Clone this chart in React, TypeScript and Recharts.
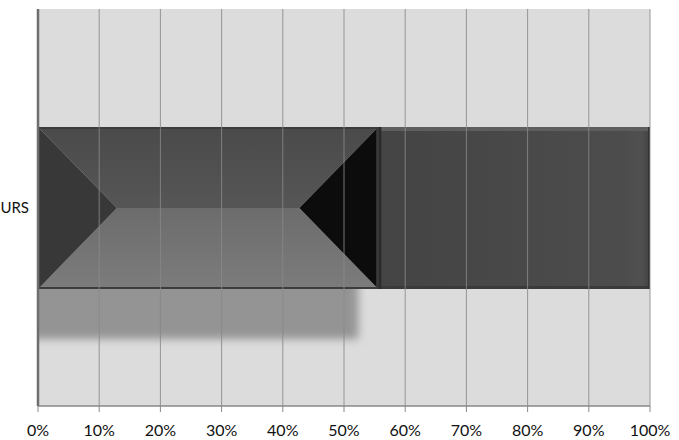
import { BarChart, Bar, XAxis, YAxis, CartesianGrid, ReferenceLine } from "recharts";

const categories = ["URS"];
const firstShare = [55.6];
const secondShare = [44.4];
const tickValues = [0, 10, 20, 30, 40, 50, 60, 70, 80, 90, 100];
const innerLines = [10, 20, 30, 40, 50, 60, 70, 80, 90, 100];

const data = categories.map((name, i) => ({
  name,
  first: firstShare[i],
  second: secondShare[i],
}));

const PLOT_LEFT = 38;

// bevelled first segment with its drop shadow
const BevelShape = (props: any) => {
  const { x, y, width, height } = props;
  const b = height / 2 - 2;
  const midY = y + height / 2;
  const right = x + width;
  return (
    <g>
      <defs>
        <filter id="shadowBlur" x="-20%" y="-50%" width="140%" height="200%">
          <feGaussianBlur stdDeviation="4" />
        </filter>
        <clipPath id="shadowClip">
          <rect x={PLOT_LEFT} y={y} width={width + 40} height={height + 80} />
        </clipPath>
        <linearGradient id="topFace" x1="0" y1="0" x2="0" y2="1">
          <stop offset="0%" stopColor="#4a4a4a" />
          <stop offset="100%" stopColor="#565656" />
        </linearGradient>
        <linearGradient id="bottomFace" x1="0" y1="0" x2="0" y2="1">
          <stop offset="0%" stopColor="#6c6c6c" />
          <stop offset="100%" stopColor="#7c7c7c" />
        </linearGradient>
      </defs>
      <g clipPath="url(#shadowClip)">
        <rect
          x={x - 10}
          y={y + height - 10}
          width={width - 10}
          height={60}
          fill="#949494"
          filter="url(#shadowBlur)"
        />
      </g>
      <polygon
        points={`${x},${y} ${right},${y} ${right - b},${midY} ${x + b},${midY}`}
        fill="url(#topFace)"
      />
      <polygon
        points={`${x},${y + height} ${right},${y + height} ${right - b},${midY} ${x + b},${midY}`}
        fill="url(#bottomFace)"
      />
      <polygon points={`${x},${y} ${x + b},${midY} ${x},${y + height}`} fill="#383838" />
      <polygon
        points={`${right},${y} ${right - b},${midY} ${right},${y + height}`}
        fill="#0c0c0c"
      />
      <rect
        x={x + 1}
        y={y + 1}
        width={width - 2}
        height={height - 2}
        fill="none"
        stroke="#3c3c3c"
        strokeWidth={2}
      />
    </g>
  );
};

const FlatShape = (props: any) => {
  const { x, y, width, height } = props;
  return (
    <g>
      <defs>
        <linearGradient id="flatFace" x1="0" y1="0" x2="1" y2="0">
          <stop offset="0%" stopColor="#444444" />
          <stop offset="90%" stopColor="#4c4c4c" />
          <stop offset="97%" stopColor="#505050" />
          <stop offset="100%" stopColor="#424242" />
        </linearGradient>
      </defs>
      <rect x={x} y={y} width={width} height={height} fill="url(#flatFace)" />
      <rect x={x} y={y} width={width} height={4} fill="#5e5e5e" />
      <rect x={x} y={y + height - 3} width={width} height={3} fill="#3a3a3a" />
      <rect x={x} y={y} width={3} height={height} fill="#2a2a2a" />
      <rect x={x + width - 2} y={y} width={2} height={height} fill="#333333" />
    </g>
  );
};

export default function App() {
  return (
    <div style={{ position: "absolute", left: 0, top: 0, background: "#fff" }}>
      <BarChart
        width={679}
        height={440}
        data={data}
        layout="vertical"
        margin={{ top: 9, right: 29, bottom: 0, left: 0 }}
        style={{ fontFamily: "Lato, 'Open Sans', sans-serif" }}
      >
        <CartesianGrid horizontal={false} vertical={false} fill="#dcdcdc" />
        <XAxis
          type="number"
          domain={[0, 100]}
          ticks={tickValues}
          tickFormatter={(v) => `${v}%`}
          height={34}
          tickSize={6}
          tickMargin={13}
          axisLine={{ stroke: "#888888", strokeWidth: 1.5 }}
          tickLine={{ stroke: "#888888" }}
          tick={{ fill: "#111111", fontSize: 16 }}
          interval={0}
        />
        <YAxis
          type="category"
          dataKey="name"
          width={38}
          tickLine={false}
          tickSize={0}
          tickMargin={9}
          axisLine={{ stroke: "#6e6e6e", strokeWidth: 2.5 }}
          tick={{ fill: "#111111", fontSize: 15 }}
        />
        <Bar
          dataKey="first"
          stackId="s"
          barSize={162}
          shape={<BevelShape />}
          isAnimationActive={false}
        />
        <Bar
          dataKey="second"
          stackId="s"
          barSize={162}
          shape={<FlatShape />}
          isAnimationActive={false}
        />
        {innerLines.map((v) => (
          <ReferenceLine
            key={v}
            x={v}
            stroke="#888888"
            strokeWidth={1}
            strokeOpacity={0.85}
          />
        ))}
      </BarChart>
    </div>
  );
}
